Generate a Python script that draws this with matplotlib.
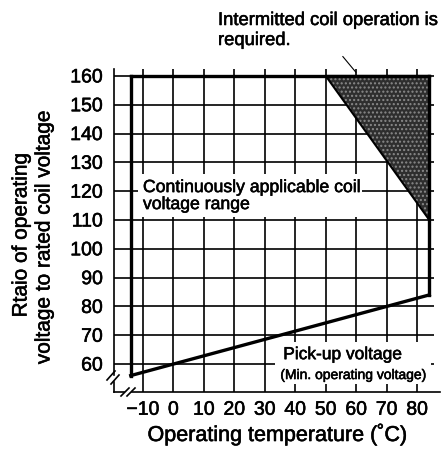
import matplotlib
matplotlib.use("Agg")
import matplotlib.pyplot as plt
from matplotlib.patches import Polygon, Rectangle
import matplotlib.patheffects as pe

plt.rcParams['font.family'] = ['Liberation Sans', 'DejaVu Sans']
bold_fx = [pe.withStroke(linewidth=0.4, foreground='black')]

# ---- data ----
x_ticks = [-10, 0, 10, 20, 30, 40, 50, 60, 70, 80]
x_tick_labels = ['\u221210', '0', '10', '20', '30', '40', '50', '60', '70', '80']
y_ticks = [60, 70, 80, 90, 100, 110, 120, 130, 140, 150, 160]
y_tick_labels = [str(v) for v in y_ticks]

# boundary of continuously applicable range
temp_min = -14
temp_max = 84
volt_max = 160
pickup_temps = [-14, 84]
pickup_volts = [56, 84]
# intermittent region triangle
interm_temps = [50, 84, 84]
interm_volts = [160, 160, 110]

W, H = 441, 456
fig = plt.figure(figsize=(W / 100, H / 100), dpi=100)
L, R, T, B = 114, 440, 70, 393
ax = fig.add_axes([L / W, 1 - B / H, (R - L) / W, (B - T) / H])
xmin, xmax = -19.5, 87.5
ymin, ymax = 50.3, 162.4
ax.set_xlim(xmin, xmax)
ax.set_ylim(ymin, ymax)
for s in ax.spines.values():
    s.set_visible(False)

grid_right = 85.4
lw_grid = 1.2
ax.hlines(y_ticks, xmin, grid_right, colors='black', lw=lw_grid, zorder=1)
ax.vlines(x_ticks, ymin, ymax, colors='black', lw=lw_grid, zorder=1)

# intermittent region
tri_pts = list(zip(interm_temps, interm_volts))
ax.add_patch(Polygon(tri_pts, closed=True, facecolor='#2e2e2e', edgecolor='#8a8a8a',
                     hatch='....', lw=0, zorder=3))
ax.add_patch(Polygon(tri_pts, closed=True, facecolor='none', edgecolor='black',
                     lw=1.5, zorder=4))

# boundary
lw_b = 2.4
bk = dict(color='black', lw=lw_b, zorder=5, solid_capstyle='projecting')
ax.plot([temp_min, temp_min], [pickup_volts[0], volt_max], **bk)
ax.plot([temp_min, temp_max], [volt_max, volt_max], **bk)
ax.plot([temp_max, temp_max], [volt_max, pickup_volts[1]], **bk)
ax.plot(pickup_temps, pickup_volts, **bk)

# axes lines with breaks (axes-fraction coords)
def fx(px):
    return (px - L) / (R - L)
def fy(py):
    return (B - py) / (B - T)
lk = dict(color='black', lw=1.2, transform=ax.transAxes, clip_on=False, zorder=6)
ax.plot([0, 0], [1, fy(376)], **lk)
ax.plot([0, 0], [fy(383), 0], **lk)
ax.plot([0, fx(124)], [0, 0], **lk)
ax.plot([fx(132), 1], [0, 0], **lk)
ax.plot([fx(107), fx(115)], [fy(381), fy(372)], **lk)
ax.plot([fx(111), fx(119)], [fy(385), fy(376)], **lk)
ax.plot([fx(121), fx(129)], [fy(397), fy(389)], **lk)
ax.plot([fx(127), fx(135)], [fy(397), fy(389)], **lk)

ax.set_xticks(x_ticks)
ax.set_xticklabels(x_tick_labels)
ax.set_yticks(y_ticks)
ax.set_yticklabels(y_tick_labels)
ax.tick_params(axis='both', length=0, labelsize=14)
ax.tick_params(axis='y', pad=8)
ax.tick_params(axis='x', pad=7)
for lab in ax.get_xticklabels() + ax.get_yticklabels():
    lab.set_path_effects(bold_fx)

ax.set_xlabel('Operating temperature (\u02daC)', fontsize=15.5, labelpad=3,
              path_effects=bold_fx)

fig.text(21 / W, 1 - 236 / H, 'Rtaio of operating', rotation=90,
         ha='center', va='center', fontsize=15, path_effects=bold_fx)
fig.text(44 / W, 1 - 238 / H, 'voltage to rated coil voltage', rotation=90,
         ha='center', va='center', fontsize=15, path_effects=bold_fx)

# text boxes (white backgrounds)
ax.add_patch(Rectangle((-11.6, 111.2), 73.6, 14.8, facecolor='white', edgecolor='none', zorder=2))
ax.text(-10, 118.3, 'Continuously applicable coil\nvoltage range', fontsize=12.7,
        ha='left', va='center', zorder=7, linespacing=1.0, path_effects=bold_fx)

ax.add_patch(Rectangle((33.5, 53.1), 50.9, 14.5, facecolor='white', edgecolor='none', zorder=2))
ax.text(36.05, 61.7, 'Pick-up voltage', fontsize=12.5, ha='left', va='baseline',
        zorder=7, path_effects=bold_fx)
ax.text(35.1, 54.8, '(Min. operating voltage)', fontsize=10, ha='left', va='baseline',
        zorder=7, path_effects=bold_fx)

# annotation
ax.annotate('', xy=(60.5, 160.5), xytext=(55, 167.5),
            arrowprops=dict(arrowstyle='-', lw=0.8, color='black'),
            annotation_clip=False, zorder=7)
fig.text(218 / W, 1 - 26 / H, 'Intermitted coil operation is', ha='left', va='baseline',
         fontsize=13.25, path_effects=bold_fx)
fig.text(218 / W, 1 - 46 / H, 'required.', ha='left', va='baseline',
         fontsize=13.25, path_effects=bold_fx)

fig.savefig('out.png', dpi=100)
